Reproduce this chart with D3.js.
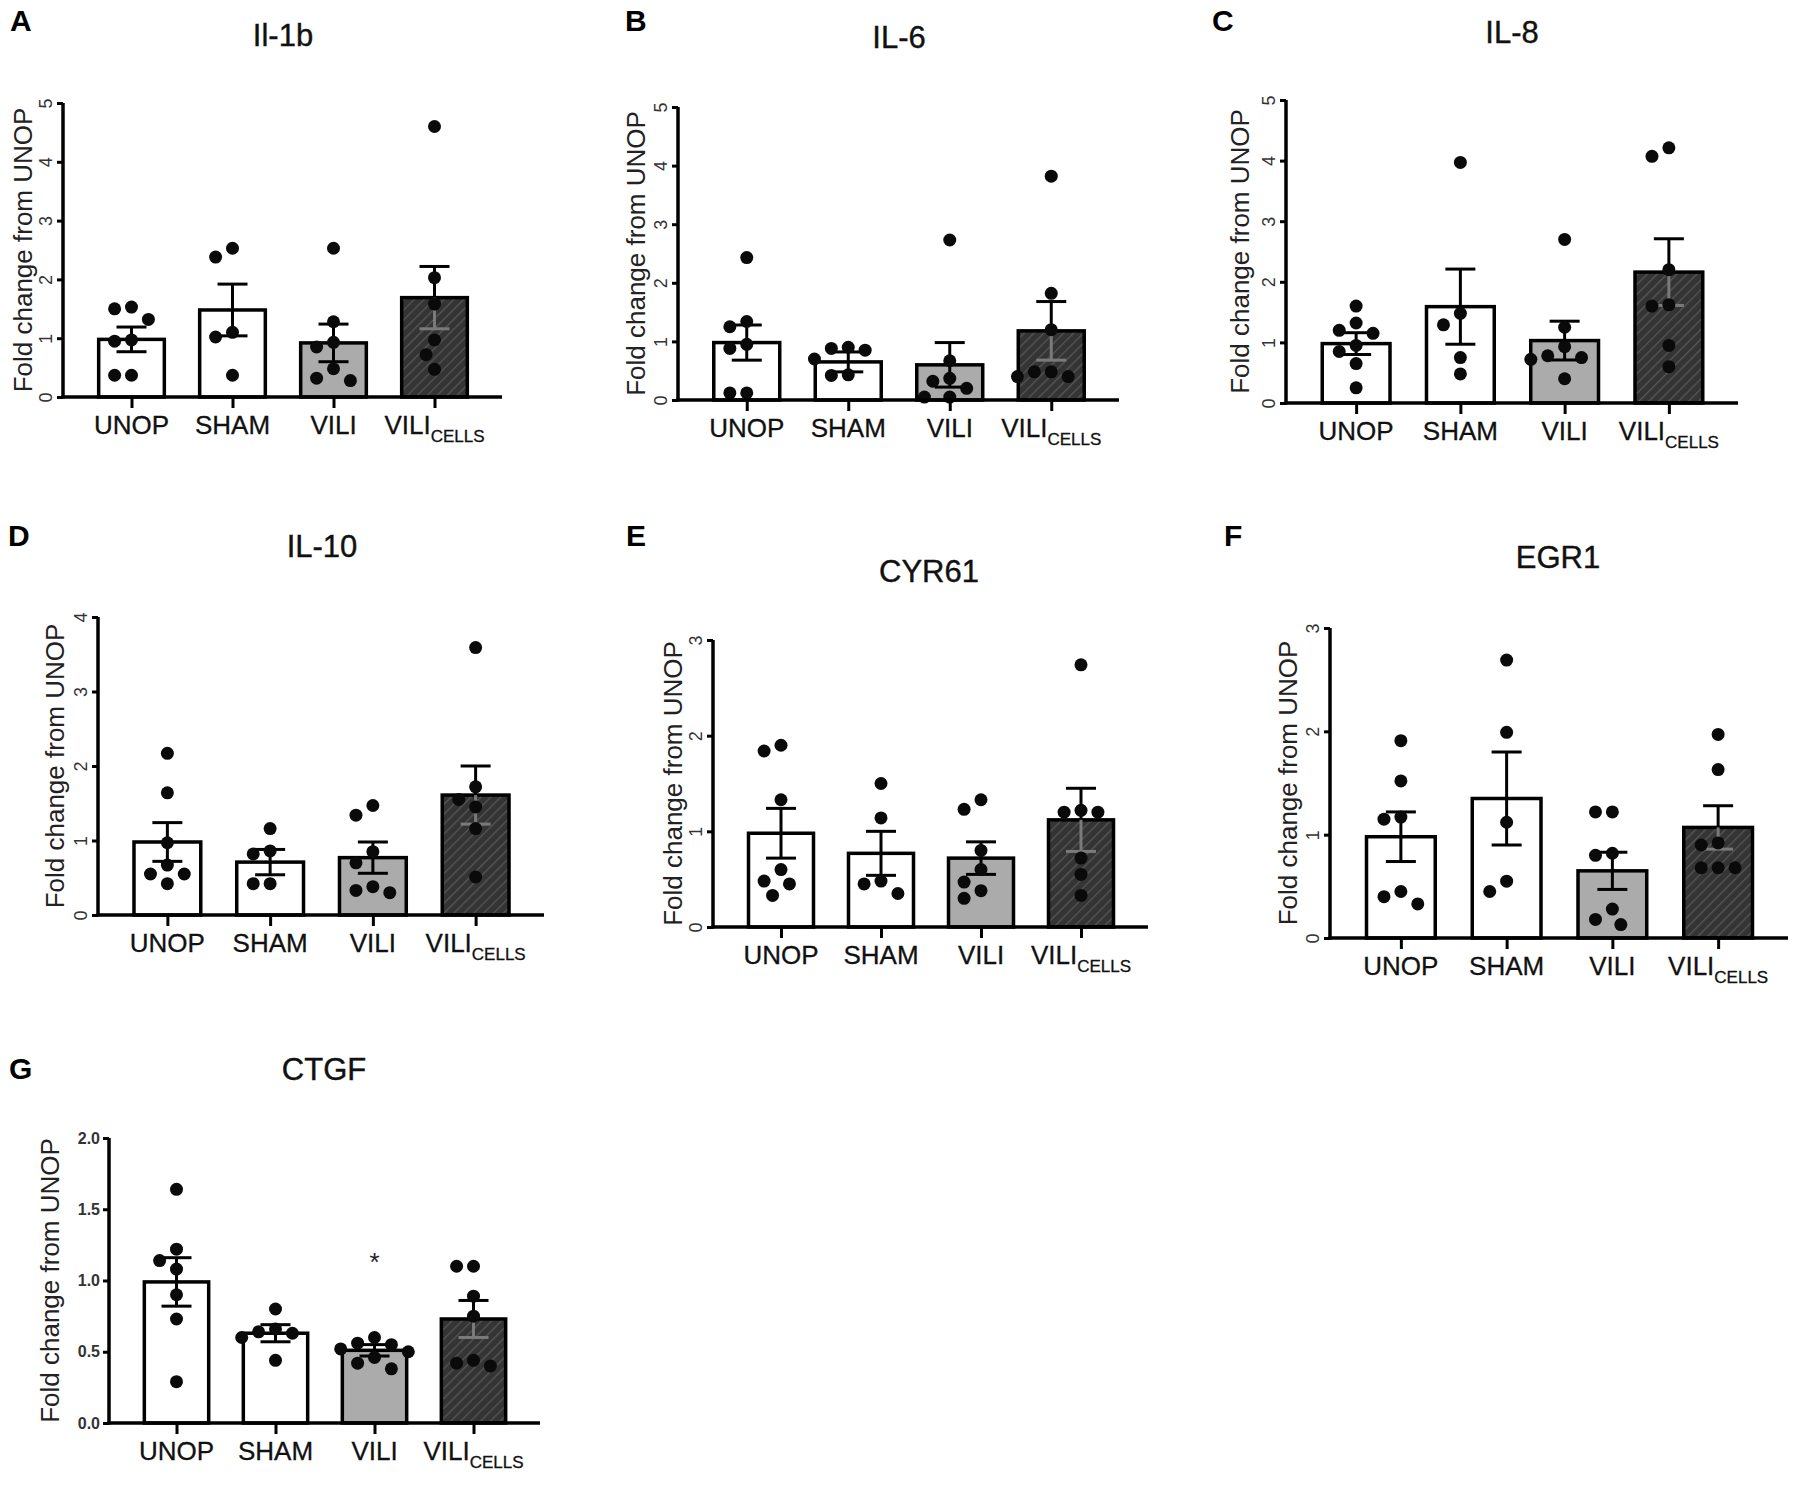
<!DOCTYPE html>
<html>
<head>
<meta charset="utf-8">
<script src="https://cdn.jsdelivr.net/npm/d3@7"></script>
<style>
  html, body { margin: 0; padding: 0; background: #fff; }
  svg { display: block; font-family: "Liberation Sans", Arial, sans-serif; }
</style>
</head>
<body>
<svg id="fig" width="1800" height="1487"></svg>
<script>
// groups shared by every panel
var groups = ["UNOP", "SHAM", "VILI", "VILI_CELLS"];
var letters = ["A", "B", "C", "D", "E", "F", "G"];
var titles = ["Il-1b", "IL-6", "IL-8", "IL-10", "CYR61", "EGR1", "CTGF"];
var yMaxes = [5, 5, 5, 4, 3, 3, 2];
var yTickStep = [1, 1, 1, 1, 1, 1, 0.5];
var yTickFormat = ["d", "d", "d", "d", "d", "d", ".1f"];

// bar heights (mean) and SEM
var il1bMean = [0.98, 1.48, 0.92, 1.69], il1bSem = [0.21, 0.44, 0.32, 0.53];
var il6Mean = [0.98, 0.65, 0.60, 1.18], il6Sem = [0.30, 0.17, 0.38, 0.50];
var il8Mean = [0.98, 1.59, 1.03, 2.16], il8Sem = [0.18, 0.62, 0.32, 0.55];
var il10Mean = [0.98, 0.71, 0.77, 1.61], il10Sem = [0.26, 0.17, 0.21, 0.39];
var cyr61Mean = [0.98, 0.77, 0.72, 1.12], cyr61Sem = [0.26, 0.23, 0.17, 0.33];
var egr1Mean = [0.98, 1.35, 0.65, 1.07], egr1Sem = [0.24, 0.45, 0.18, 0.21];
var ctgfMean = [0.99, 0.63, 0.51, 0.73], ctgfSem = [0.17, 0.06, 0.04, 0.13];

// individual animals
var il1bPoints = [[1.53, 1.50, 1.32, 0.97, 0.95, 0.37, 0.37], [2.53, 2.38, 1.10, 1.02, 0.37],
                  [2.53, 1.28, 0.93, 0.85, 0.48, 0.32, 0.28], [4.60, 2.03, 1.58, 0.97, 0.72, 0.47]];
var il6Points = [[2.43, 1.34, 1.25, 0.95, 0.88, 0.12, 0.12], [0.90, 0.88, 0.85, 0.70, 0.43, 0.42],
                 [2.73, 0.67, 0.37, 0.32, 0.20, 0.05, 0.05], [3.82, 1.82, 1.20, 0.48, 0.48, 0.40, 0.40]];
var il8Points = [[1.60, 1.32, 1.20, 1.15, 0.95, 0.85, 0.65, 0.25], [3.97, 1.48, 1.29, 0.75, 0.48],
                 [2.70, 1.25, 0.93, 0.78, 0.75, 0.72, 0.40], [4.21, 4.07, 2.20, 1.62, 1.60, 0.95, 0.60]];
var il10Points = [[2.17, 1.64, 0.97, 0.67, 0.55, 0.55, 0.42], [1.16, 0.86, 0.82, 0.42, 0.42],
                  [1.47, 1.34, 0.85, 0.70, 0.38, 0.33, 0.30], [3.59, 1.72, 1.55, 1.45, 1.16, 0.51]];
var cyr61Points = [[1.90, 1.84, 1.33, 0.60, 0.48, 0.45, 0.33], [1.50, 1.14, 0.48, 0.45, 0.35],
                   [1.33, 1.23, 0.80, 0.60, 0.47, 0.38, 0.30], [2.74, 1.22, 1.20, 1.20, 0.72, 0.55, 0.33]];
var egr1Points = [[1.91, 1.52, 1.17, 1.15, 0.45, 0.40, 0.33], [2.69, 1.99, 1.12, 0.55, 0.45],
                  [1.22, 1.22, 0.82, 0.80, 0.28, 0.18, 0.13], [1.97, 1.63, 0.92, 0.90, 0.68, 0.68, 0.68]];
var ctgfPoints = [[1.64, 1.22, 1.14, 1.08, 0.90, 0.73, 0.29], [0.80, 0.66, 0.64, 0.63, 0.60, 0.44],
                  [0.60, 0.56, 0.55, 0.52, 0.50, 0.46, 0.42, 0.38], [1.10, 1.10, 0.89, 0.75, 0.44, 0.42, 0.40]];

// significance marks (group index, level)
var ctgfStar = [{ g: 2, v: 1.15, t: "*" }];

var means = [il1bMean, il6Mean, il8Mean, il10Mean, cyr61Mean, egr1Mean, ctgfMean];
var sems = [il1bSem, il6Sem, il8Sem, il10Sem, cyr61Sem, egr1Sem, ctgfSem];
var points = [il1bPoints, il6Points, il8Points, il10Points, cyr61Points, egr1Points, ctgfPoints];
var stars = [[], [], [], [], [], [], ctgfStar];

// panel frames: axis corner and extents (layout only)
var frames = [
    { x0: 63, x1: 502, top: 103, zero: 397, tx: 283, ty: 46, lx: 10, ly: 31, yt: 40 },
    { x0: 678, x1: 1119, top: 107, zero: 400, tx: 899, ty: 48, lx: 625, ly: 31, yt: 42 },
    { x0: 1286, x1: 1738, top: 100, zero: 403, tx: 1512, ty: 43, lx: 1212, ly: 31, yt: 46 },
    { x0: 98, x1: 544, top: 617, zero: 915, tx: 322, ty: 557, lx: 8, ly: 546, yt: 43 },
    { x0: 713, x1: 1148, top: 640, zero: 927, tx: 929, ty: 582, lx: 626, ly: 546, yt: 40 },
    { x0: 1330, x1: 1788, top: 628, zero: 938, tx: 1558, ty: 568, lx: 1224, ly: 546, yt: 42 },
    { x0: 109, x1: 540, top: 1138, zero: 1423, tx: 324, ty: 1080, lx: 9, ly: 1079, yt: 59 }
];

var fills = ["#ffffff", "#ffffff", "#ababab", "url(#hatch)"];
var dotR = 6.5;

var svg = d3.select("#fig");
var defs = svg.append("defs");
var pat = defs.append("pattern").attr("id", "hatch").attr("patternUnits", "userSpaceOnUse")
    .attr("width", 7).attr("height", 7).attr("patternTransform", "rotate(45)");
pat.append("rect").attr("width", 7).attr("height", 7).attr("fill", "#343434");
pat.append("line").attr("x1", 0).attr("y1", 0).attr("x2", 0).attr("y2", 7)
    .attr("stroke", "#575757").attr("stroke-width", 2.5);

// simple beeswarm so dots with close values sit side by side
function swarm(vals, y, r) {
    var placed = [];
    var step = 2 * r * 1.3;
    vals.forEach(function (v) {
        var cy = y(v), offs = [0, -0.5, 0.5, -1, 1, -1.5, 1.5, -2, 2];
        for (var i = 0; i < offs.length; i++) {
            var cx = offs[i] * step;
            var ok = placed.every(function (p) {
                return Math.hypot(p.cx - cx, p.cy - cy) >= step * 0.95;
            });
            if (ok) {
                placed.push({ cx: cx, cy: cy });
                return;
            }
        }
        placed.push({ cx: 0, cy: cy });
    });
    return placed;
}

frames.forEach(function (f, i) {
    var g = svg.append("g");
    var y = d3.scaleLinear().domain([0, yMaxes[i]]).range([f.zero, f.top]);
    var x = d3.scalePoint().domain(groups).range([f.x0 + 18, f.x1 - 17]).padding(0.5);
    var bw = x.step() * 0.65;

    g.append("text").attr("x", f.lx).attr("y", f.ly).attr("font-size", 30).attr("font-weight", "bold")
        .attr("fill", "#000").text(letters[i]);
    g.append("text").attr("x", f.tx).attr("y", f.ty).attr("text-anchor", "middle")
        .attr("font-size", 31).attr("fill", "#111").attr("stroke", "#111").attr("stroke-width", 0.4)
        .text(titles[i]);

    // bars
    g.selectAll("rect.bar").data(means[i]).enter().append("rect").attr("class", "bar")
        .attr("x", function (d, j) { return x(groups[j]) - bw / 2; })
        .attr("y", function (d) { return y(d); })
        .attr("width", bw)
        .attr("height", function (d) { return f.zero - y(d); })
        .attr("fill", function (d, j) { return fills[j]; })
        .attr("stroke", "#000").attr("stroke-width", 3.5);

    // error bars (mean +/- SEM)
    var capW = 15;
    means[i].forEach(function (m, j) {
        var cx = x(groups[j]), s = sems[i][j];
        var col = j === 3 ? "#7a7a7a" : "#000";
        g.append("line").attr("x1", cx).attr("x2", cx).attr("y1", y(m)).attr("y2", y(m + s))
            .attr("stroke", "#000").attr("stroke-width", 3);
        g.append("line").attr("x1", cx - capW).attr("x2", cx + capW).attr("y1", y(m + s)).attr("y2", y(m + s))
            .attr("stroke", "#000").attr("stroke-width", 3);
        g.append("line").attr("x1", cx).attr("x2", cx).attr("y1", y(m)).attr("y2", y(m - s))
            .attr("stroke", col).attr("stroke-width", 3);
        g.append("line").attr("x1", cx - capW).attr("x2", cx + capW).attr("y1", y(m - s)).attr("y2", y(m - s))
            .attr("stroke", col).attr("stroke-width", 3);
    });

    // dots
    points[i].forEach(function (vals, j) {
        var cx = x(groups[j]);
        g.selectAll(null).data(swarm(vals, y, dotR)).enter().append("circle")
            .attr("cx", function (p) { return cx + p.cx; })
            .attr("cy", function (p) { return p.cy; })
            .attr("r", dotR).attr("fill", "#0a0a0a");
    });

    stars[i].forEach(function (s) {
        g.append("text").attr("x", x(groups[s.g])).attr("y", y(s.v) + 12).attr("text-anchor", "middle")
            .attr("font-size", 26).attr("fill", "#222").text(s.t);
    });

    // y axis
    var ticks = d3.range(0, yMaxes[i] + 1e-9, yTickStep[i]);
    var decimal = yTickStep[i] < 1;
    var yAxis = d3.axisLeft(y).tickValues(ticks).tickSize(6).tickPadding(3)
        .tickFormat(d3.format(yTickFormat[i]));
    var ya = g.append("g").attr("transform", "translate(" + f.x0 + ",0)").call(yAxis);
    ya.select(".domain").attr("stroke", "#000").attr("stroke-width", 3.5)
        .attr("d", "M0," + (f.zero + 1.5) + "V" + f.top);
    ya.selectAll(".tick line").attr("stroke", "#000").attr("stroke-width", 3);
    var tt = ya.selectAll(".tick text").attr("fill", "#333")
        .attr("font-family", "'Liberation Sans', Arial, sans-serif");
    if (decimal) {
        tt.attr("font-size", 16).attr("font-weight", "bold");
    } else {
        // single digits sit turned on their side, as in the source figure
        tt.attr("font-size", 18).attr("text-anchor", "middle").attr("x", 0).attr("dy", null)
            .attr("transform", "translate(-17,0) rotate(-90)").attr("dy", "0.35em");
    }

    // x axis
    var xAxis = d3.axisBottom(x).tickSize(11).tickFormat("");
    var xa = g.append("g").attr("transform", "translate(0," + f.zero + ")").call(xAxis);
    xa.select(".domain").attr("stroke", "#000").attr("stroke-width", 3.5)
        .attr("d", "M" + (f.x0 - 1.5) + ",0H" + f.x1);
    xa.selectAll(".tick line").attr("stroke", "#000").attr("stroke-width", 3);

    // category labels, VILI with CELLS subscript
    groups.forEach(function (name, j) {
        var t = g.append("text").attr("x", x(name)).attr("y", f.zero + 37)
            .attr("text-anchor", "middle").attr("font-size", 26).attr("fill", "#111")
            .attr("stroke", "#111").attr("stroke-width", 0.3);
        if (name === "VILI_CELLS") {
            t.append("tspan").text("VILI");
            t.append("tspan").attr("font-size", 17).attr("dy", 8).text("CELLS");
        } else {
            t.text(name);
        }
    });

    // y title
    g.append("text")
        .attr("transform", "translate(" + (f.x0 - f.yt) + "," + ((f.top + f.zero) / 2) + ") rotate(-90)")
        .attr("text-anchor", "middle").attr("dy", "0.35em").attr("font-size", 26).attr("fill", "#222")
        .text("Fold change from UNOP");
});
</script>
</body>
</html>
